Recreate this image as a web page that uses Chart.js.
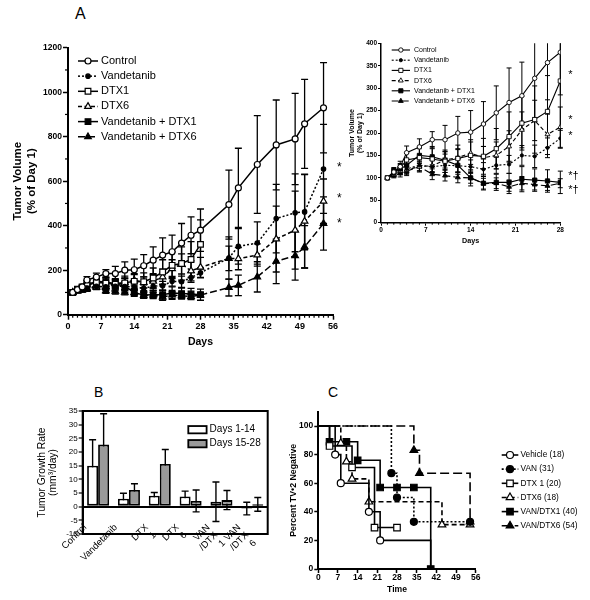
<!DOCTYPE html>
<html>
<head>
<meta charset="utf-8">
<script src="https://cdn.jsdelivr.net/npm/chart.js@4.4.1/dist/chart.umd.min.js"></script>
<style>
body{margin:0;background:#fff;width:590px;height:600px;position:relative;overflow:hidden}
canvas{position:absolute}
.pl{position:absolute;font-family:'Liberation Sans',Arial,sans-serif;line-height:1;color:#000}
</style>
</head>
<body>
<div class="pl" style="left:75px;top:6px;font-size:16px">A</div>
<div class="pl" style="left:94px;top:385px;font-size:14px">B</div>
<div class="pl" style="left:328px;top:385px;font-size:14px">C</div>
<canvas id="cA" width="344" height="360" style="left:0;top:0"></canvas>
<canvas id="cIn" width="246" height="230" style="left:344px;top:30px"></canvas>
<canvas id="cB" width="290" height="220" style="left:0;top:380px"></canvas>
<canvas id="cC" width="306" height="220" style="left:284px;top:380px"></canvas>
<script>
// ---- panel A data (tumor volume, % of day 1) ----
const days = [1,2,3,4,6,8,10,12,14,16,18,20,22,24,26,28]
const lateDays = [34,36,40,44,48,50,54]

const control = [100,113,125,156,169,185,185,200,202,220,245,268,283,322,357,380]
const controlErr = [0,8,12,15,18,18,32,37,48,50,60,77,75,88,83,95]
const controlLate = [495,570,675,763,790,858,930]
const controlLateErr = [155,178,220,202,205,200,203]

const vandetanib = [100,110,118,120,128,125,128,127,125,119,128,130,150,148,167,188]
const vandetanibErr = [0,6,8,10,12,14,16,15,15,15,18,20,22,25,22,22]
const vandetanibLate = [255,307,322,432,458,462,655]
const vandetanibLateErr = [95,80,95,154,175,170,200]

const dtx1 = [100,112,122,140,145,142,137,143,150,148,165,192,222,230,248,316]
const dtx1Err = [0,8,10,15,20,28,25,30,35,40,45,55,60,75,80,110]

const dtx6 = [100,108,115,118,125,127,140,145,155,145,150,170,207,228,197,213]
const dtx6Err = [0,6,8,10,12,15,18,20,25,25,30,35,40,45,45,45]
const dtx6Late = [253,252,268,340,380,420,510]
const dtx6LateErr = [55,50,50,148,175,210,100]

const vanDtx1 = [100,115,120,128,150,147,139,128,100,88,90,90,97,95,93,90]
const vanDtx1Err = [0,8,10,15,18,18,20,20,18,15,18,20,28,25,25,25]

const vanDtx6 = [100,105,110,115,125,108,105,101,100,87,88,80,88,85,82,88]
const vanDtx6Err = [0,5,8,10,10,12,12,12,12,12,12,15,15,12,10,10]
const vanDtx6Late = [122,132,170,240,265,305,410]
const vanDtx6LateErr = [38,46,68,100,110,95,120]

const seriesNames = ["Control","Vandetanib","DTX1","DTX6","Vandetanib + DTX1","Vandetanib + DTX6"]
const mainStars = [{v:673,t:"*"},{v:533,t:"*"},{v:421,t:"*"}]
const insetStars = [{v:333,t:"*"},{v:233,t:"*"},{v:198,t:"*"},{v:108,t:"*\u2020"},{v:78,t:"*\u2020"}]

// ---- panel B data (growth rate) ----
const groups = ["Control","Vandetanib",["DTX","1"],["DTX","6"],["VAN","/DTX","1"],["VAN","/DTX","6"]]
const rateEarly = [15,2.9,4,3.7,1.8,-0.7]
const rateEarlyErr = [9.5,2,1.2,2,7.2,2.3]
const rateLate = [22.7,6.1,15.6,2.1,2.4,0.85]
const rateLateErr = [11.3,2.3,5.3,4,3.5,2.5]

// ---- panel C data (percent TV*2 negative) ----
const vehT = [0,6,8,18,22,40],        vehS = [100,80,60,40,20,0]
const vanT = [0,26,28,34,54],         vanS = [100,67,50,33,33]
const d1T = [0,4,12,20,28],           d1S = [100,86,71,29,29]
const d6T = [0,8,10,12,18,44,54],     d6S = [100,88,75,63,47,31,31]
const vd1T = [0,4,10,14,22,28,34,40], vd1S = [100,89,89,76,57,57,57,0]
const vd6T = [0,34,36,54],            vd6S = [100,83,67,33]
const survNames = ["Vehicle (18)","VAN (31)","DTX 1 (20)","DTX6 (18)","VAN/DTX1 (40)","VAN/DTX6 (54)"]

const FF = "'Liberation Sans',Arial,sans-serif"
Chart.defaults.font.family = FF
Chart.defaults.color = "#000"
Chart.defaults.animation = false
Chart.defaults.responsive = false
Chart.defaults.plugins.legend.display = false
Chart.defaults.plugins.tooltip.enabled = false

function marker(ctx, style, x, y, r, fill, lw){
  ctx.beginPath()
  if(style==="circle") ctx.arc(x,y,r,0,Math.PI*2)
  else if(style==="rect"){ let s=r*Math.SQRT1_2; ctx.rect(x-s,y-s,2*s,2*s) }
  else {
    let a=0
    ctx.moveTo(x+Math.sin(a)*r,y-Math.cos(a)*r); a+=Math.PI*2/3
    ctx.lineTo(x+Math.sin(a)*r,y-Math.cos(a)*r); a+=Math.PI*2/3
    ctx.lineTo(x+Math.sin(a)*r,y-Math.cos(a)*r)
    ctx.closePath()
  }
  ctx.fillStyle=fill; ctx.fill()
  ctx.strokeStyle="#000"; ctx.lineWidth=lw; ctx.stroke()
}

const errBars = {
  id:"errBars",
  beforeDatasetsDraw(chart, args, o){
    const {ctx, chartArea:a} = chart
    const ys = chart.scales.y
    ctx.save()
    ctx.beginPath(); ctx.rect(a.left-10, a.top, a.right-a.left+20, a.bottom-a.top+10); ctx.clip()
    ctx.strokeStyle="#000"; ctx.lineWidth=o.lw; ctx.setLineDash([])
    chart.data.datasets.forEach((ds,di)=>{
      if(!ds.err) return
      const meta = chart.getDatasetMeta(di)
      ds.data.forEach((p,i)=>{
        const e = ds.err[i]; if(!e) return
        const v = typeof p==="object" ? p.y : p
        const x = meta.data[i].x
        const y1 = ys.getPixelForValue(v+e), y2 = ys.getPixelForValue(v-e)
        ctx.beginPath()
        ctx.moveTo(x,y1); ctx.lineTo(x,y2)
        ctx.moveTo(x-o.cap,y1); ctx.lineTo(x+o.cap,y1)
        ctx.moveTo(x-o.cap,y2); ctx.lineTo(x+o.cap,y2)
        ctx.stroke()
      })
    })
    ctx.restore()
  }
}

const minorTicks = {
  id:"minorTicks",
  afterDraw(chart, args, o){
    if(!o.x && !o.y) return
    const {ctx, chartArea:a} = chart
    ctx.save(); ctx.strokeStyle="#000"; ctx.lineWidth=o.lw||1
    ;(o.x||[]).forEach(v=>{ const px=chart.scales.x.getPixelForValue(v); ctx.beginPath(); ctx.moveTo(px,a.bottom); ctx.lineTo(px,a.bottom+o.len); ctx.stroke() })
    ;(o.y||[]).forEach(v=>{ const py=chart.scales.y.getPixelForValue(v); ctx.beginPath(); ctx.moveTo(a.left,py); ctx.lineTo(a.left-o.len,py); ctx.stroke() })
    ctx.restore()
  }
}

const sampleLegend = {
  id:"sampleLegend",
  afterDraw(chart, args, o){
    if(!o.x0) return
    const ctx = chart.ctx
    ctx.save()
    chart.data.datasets.forEach((ds,i)=>{
      const y = o.y0 + i*o.dy
      ctx.strokeStyle="#000"; ctx.lineWidth=ds.borderWidth; ctx.setLineDash(ds.borderDash||[])
      ctx.beginPath(); ctx.moveTo(o.x0,y); ctx.lineTo(o.x1,y); ctx.stroke()
      ctx.setLineDash([])
      marker(ctx, ds.pointStyle, (o.x0+o.x1)/2, y, o.r*(ds.legR||1), ds.pointBackgroundColor, ds.pointBorderWidth)
      ctx.fillStyle="#000"; ctx.font=o.font; ctx.textBaseline="middle"; ctx.textAlign="left"
      ctx.fillText(ds.label, o.tx, y)
    })
    ctx.restore()
  }
}

const stars = {
  id:"stars",
  afterDraw(chart, args, o){
    if(!o.marks) return
    const ctx = chart.ctx
    ctx.save(); ctx.fillStyle="#000"; ctx.font=o.font; ctx.textBaseline="middle"; ctx.textAlign="left"
    o.marks.forEach(m=> ctx.fillText(m.t, chart.chartArea.right+o.dx, chart.scales.y.getPixelForValue(m.v)+o.dy))
    ctx.restore()
  }
}

const frame = {
  id:"frame",
  afterDraw(chart, args, o){
    if(!o.on) return
    const {ctx, chartArea:a} = chart
    ctx.save(); ctx.strokeStyle="#000"; ctx.lineWidth=2
    ctx.strokeRect(a.left,a.top,a.right-a.left,a.bottom-a.top)
    ctx.restore()
  }
}

const boxLegend = {
  id:"boxLegend",
  afterDraw(chart, args, o){
    if(!o.x0) return
    const ctx = chart.ctx
    ctx.save()
    chart.data.datasets.forEach((ds,i)=>{
      const y = o.y0 + i*o.dy
      ctx.fillStyle=ds.backgroundColor; ctx.fillRect(o.x0,y-o.h/2,o.w,o.h)
      ctx.strokeStyle="#000"; ctx.lineWidth=1.8; ctx.strokeRect(o.x0,y-o.h/2,o.w,o.h)
      ctx.fillStyle="#000"; ctx.font=o.font; ctx.textBaseline="middle"
      ctx.fillText(ds.label, o.x0+o.w+3, y)
    })
    ctx.restore()
  }
}

// slanted category labels for panel B, placed from the x scale tick pixels
const slantLabels = {
  id:"slantLabels",
  afterDraw(chart, args, o){
    if(!o.font) return
    const ctx = chart.ctx, xs = chart.scales.x, base = chart.chartArea.bottom
    ctx.save(); ctx.font=o.font; ctx.fillStyle="#000"; ctx.textAlign="right"; ctx.textBaseline="middle"
    chart.data.labels.forEach((lab,i)=>{
      const lines = Array.isArray(lab) ? lab : [lab]
      const x0 = xs.getPixelForTick(i)+o.dx, y0 = base+o.dy
      lines.forEach((t,k)=>{
        ctx.save()
        ctx.translate(x0 + k*o.lh*0.707, y0 + k*o.lh*0.707)
        ctx.rotate(-Math.PI/4)
        ctx.fillText(t,0,0)
        ctx.restore()
      })
    })
    ctx.restore()
  }
}

const styles = [
  {pointStyle:"circle", pointBackgroundColor:"#fff", borderDash:[], r:3},
  {pointStyle:"circle", pointBackgroundColor:"#000", borderDash:[2,2], r:2.2},
  {pointStyle:"rect", pointBackgroundColor:"#fff", borderDash:[], r:4},
  {pointStyle:"triangle", pointBackgroundColor:"#fff", borderDash:[4,2.5], r:3.8},
  {pointStyle:"rect", pointBackgroundColor:"#000", borderDash:[], r:4},
  {pointStyle:"triangle", pointBackgroundColor:"#000", borderDash:[7,3], r:3.8}
]

function lineSet(i, xs, ys, err, scale){
  const s = styles[i]
  return {
    label: seriesNames[i],
    data: xs.map((x,k)=>({x:x, y:ys[k]})),
    err: err,
    borderColor:"#000", borderWidth:1.5*scale, borderDash:s.borderDash,
    pointStyle:s.pointStyle, pointBackgroundColor:s.pointBackgroundColor, pointBorderColor:"#000",
    pointBorderWidth:1.2*scale, pointRadius:s.r*scale, legR:s.r/3, tension:0
  }
}

function range(a,b,skip){ let out=[]; for(let v=a; v<=b; v++) if(v%skip) out.push(v); return out }
const plain = v => String(v)

// ---------- panel A main ----------
new Chart(document.getElementById("cA"),{
  type:"line",
  data:{datasets:[
    lineSet(0, days.concat(lateDays), control.concat(controlLate), controlErr.concat(controlLateErr), 1),
    lineSet(1, days.concat(lateDays), vandetanib.concat(vandetanibLate), vandetanibErr.concat(vandetanibLateErr), 1),
    lineSet(2, days, dtx1, dtx1Err, 1),
    lineSet(3, days.concat(lateDays), dtx6.concat(dtx6Late), dtx6Err.concat(dtx6LateErr), 1),
    lineSet(4, days, vanDtx1, vanDtx1Err, 1),
    lineSet(5, days.concat(lateDays), vanDtx6.concat(vanDtx6Late), vanDtx6Err.concat(vanDtx6LateErr), 1)
  ]},
  options:{
    layout:{padding:{left:0,top:47.7,right:11,bottom:10.3}},
    plugins:{
      errBars:{lw:1.3, cap:3.5},
      minorTicks:{x:range(1,55,7), y:[100,300,500,700,900,1100], len:3, lw:1.2},
      sampleLegend:{x0:78, x1:98, tx:101, y0:61, dy:15.15, r:3, font:"11px "+FF},
      stars:{marks:mainStars, dx:4, dy:3, font:"12px "+FF}
    },
    scales:{
      x:{type:"linear", min:0, max:56,
        ticks:{stepSize:7, font:{size:9, weight:"bold"}, padding:1.6, maxRotation:0, callback:plain},
        grid:{drawOnChartArea:false, tickLength:5, color:"#000", tickWidth:1.5},
        border:{color:"#000", width:2},
        title:{display:true, text:"Days", font:{size:10.5, weight:"bold"}, padding:{top:0,bottom:1.7}},
        afterFit:s=>{s.height=35}},
      y:{min:0, max:1200,
        ticks:{stepSize:200, font:{size:8.5, weight:"bold"}, padding:1, callback:plain},
        grid:{drawOnChartArea:false, tickLength:5, color:"#000", tickWidth:1.5},
        border:{color:"#000", width:2},
        title:{display:true, text:["Tumor Volume","(% of Day 1)"], font:{size:11.5, weight:"bold"}, padding:{top:11.1,bottom:0}},
        afterFit:s=>{s.width=68}}
    }
  },
  plugins:[errBars, minorTicks, sampleLegend, stars]
})

// ---------- panel A inset ----------
new Chart(document.getElementById("cIn"),{
  type:"line",
  data:{datasets:[
    lineSet(0, days, control, controlErr, 0.75),
    lineSet(1, days, vandetanib, vandetanibErr, 0.75),
    lineSet(2, days, dtx1, dtx1Err, 0.75),
    lineSet(3, days, dtx6, dtx6Err, 0.75),
    lineSet(4, days, vanDtx1, vanDtx1Err, 0.75),
    lineSet(5, days, vanDtx6, vanDtx6Err, 0.75)
  ]},
  options:{
    layout:{padding:{left:0,top:13.3,right:29.7,bottom:7.3}},
    plugins:{
      errBars:{lw:1, cap:2.5},
      minorTicks:{x:range(1,27,7), len:2, lw:1},
      sampleLegend:{x0:47.7, x1:66, tx:70, y0:20, dy:10.2, r:2.2, font:"7px "+FF},
      stars:{marks:insetStars, dx:8, dy:2, font:"11px "+FF}
    },
    scales:{
      x:{type:"linear", min:0, max:28,
        ticks:{stepSize:7, font:{size:6.5, weight:"bold"}, padding:0.4, maxRotation:0},
        grid:{drawOnChartArea:false, tickLength:3, color:"#000", tickWidth:1},
        border:{color:"#000", width:1.5},
        title:{display:true, text:"Days", font:{size:7.2, weight:"bold"}, padding:{top:0,bottom:7.4}},
        afterFit:s=>{s.height=30}},
      y:{min:0, max:400,
        ticks:{stepSize:50, font:{size:6.5, weight:"bold"}, padding:1},
        grid:{drawOnChartArea:false, tickLength:3, color:"#000", tickWidth:1},
        border:{color:"#000", width:1.5},
        title:{display:true, text:["Tumor Volume","(% of Day 1)"], font:{size:7, weight:"bold"}, padding:{top:3.8,bottom:0}},
        afterFit:s=>{s.width=37}}
    }
  },
  plugins:[errBars, minorTicks, sampleLegend, stars]
})

// ---------- panel B ----------
new Chart(document.getElementById("cB"),{
  type:"bar",
  data:{labels:groups, datasets:[
    {label:"Days 1-14", data:rateEarly, err:rateEarlyErr, backgroundColor:"#fff", borderColor:"#000", borderWidth:1.8, borderSkipped:false},
    {label:"Days 15-28", data:rateLate, err:rateLateErr, backgroundColor:"#9a9a9a", borderColor:"#000", borderWidth:1.8, borderSkipped:false}
  ]},
  options:{
    layout:{padding:{left:0,top:31,right:22.3,bottom:6}},
    datasets:{bar:{categoryPercentage:0.714, barPercentage:1}},
    plugins:{
      errBars:{lw:1.4, cap:3.5},
      frame:{on:true},
      boxLegend:{x0:188.3, y0:49.7, dy:14, w:18.3, h:7.3, font:"10px "+FF},
      slantLabels:{font:"9.5px "+FF, dx:-13, dy:-8, lh:11}
    },
    scales:{
      x:{grid:{display:false, drawTicks:false}, border:{color:"#000", width:2},
        ticks:{display:false},
        afterFit:s=>{s.height=60}},
      y:{min:-10, max:35,
        ticks:{stepSize:5, autoSkip:false, font:{size:8}, padding:1},
        grid:{drawOnChartArea:true, color:c=>c.tick.value===0?"#000":"rgba(0,0,0,0)", lineWidth:2, tickColor:"#000", tickWidth:1.2, tickLength:4},
        border:{color:"#000", width:2},
        title:{display:true, text:["Tumor Growth Rate","(mm\u00b3/day)"], font:{size:10.3, lineHeight:1.15}, padding:{top:35.8,bottom:0}},
        afterFit:s=>{s.width=82.7}}
    }
  },
  plugins:[errBars, frame, boxLegend, slantLabels]
})

// ---------- panel C ----------
const survStyles = [
  {pointStyle:"circle", fill:"#fff", dash:[], r:3.5},
  {pointStyle:"circle", fill:"#000", dash:[2,2], r:3.5},
  {pointStyle:"rect", fill:"#fff", dash:[], r:4.6},
  {pointStyle:"triangle", fill:"#fff", dash:[5,3], r:4.4},
  {pointStyle:"rect", fill:"#000", dash:[], r:4.6},
  {pointStyle:"triangle", fill:"#000", dash:[9,4], r:4.4}
]
function survSet(i, ts, ss, lastHidden){
  const s = survStyles[i]
  return {
    label:survNames[i], data:ts.map((t,k)=>({x:t, y:ss[k]})),
    stepped:true, borderColor:"#000", borderWidth:1.6, borderDash:s.dash,
    pointStyle:s.pointStyle, pointBackgroundColor:s.fill, pointBorderColor:"#000", pointBorderWidth:1.2,
    pointRadius:c=>(c.dataIndex===0 || (lastHidden && c.dataIndex===ts.length-1)) ? 0 : s.r,
    legR:s.r/3.5, tension:0
  }
}
new Chart(document.getElementById("cC"),{
  type:"line",
  data:{datasets:[
    survSet(0, vehT, vehS, true),
    survSet(1, vanT, vanS),
    survSet(2, d1T, d1S),
    survSet(3, d6T, d6S),
    survSet(4, vd1T, vd1S),
    survSet(5, vd6T, vd6S)
  ]},
  options:{
    layout:{padding:{left:0,top:31.7,right:114.3,bottom:4}},
    plugins:{
      sampleLegend:{x0:217.7, x1:234.3, tx:236.5, y0:75, dy:14.15, r:3.5, font:"8.3px "+FF}
    },
    scales:{
      x:{type:"linear", min:0, max:56,
        ticks:{stepSize:7, font:{size:8.5, weight:"bold"}, padding:0, maxRotation:0},
        grid:{drawOnChartArea:false, tickLength:4, color:"#000", tickWidth:1.5},
        border:{color:"#000", width:2},
        title:{display:true, text:"Time", font:{size:8.6, weight:"bold"}, padding:{top:0,bottom:0.8}},
        afterFit:s=>{s.height=27}},
      y:{min:0, max:110,
        ticks:{stepSize:20, includeBounds:false, font:{size:8.5, weight:"bold"}, padding:1},
        grid:{drawOnChartArea:false, tickLength:4, color:"#000", tickWidth:1.5},
        border:{color:"#000", width:2},
        title:{display:true, text:"Percent TV\u20222 Negative", font:{size:8.8, weight:"bold"}, padding:{top:4.7,bottom:0}},
        afterFit:s=>{s.width=34.3}}
    }
  },
  plugins:[sampleLegend]
})
</script>
</body>
</html>
